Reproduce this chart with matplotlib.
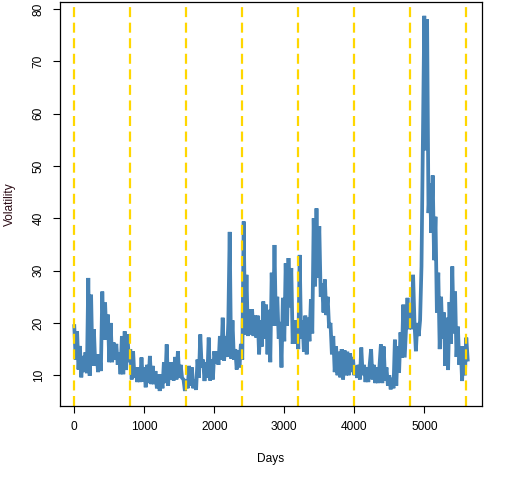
import numpy as np
import matplotlib.pyplot as plt

plt.rcParams['font.family'] = ['Liberation Sans', 'DejaVu Sans']

# volatility, one value every 20 days
vol = [
    19.4, 13, 18.4, 11.1, 15.6, 9.6, 13.7, 10.6, 14.4, 10.4,
    28.6, 9.9, 25.4, 11.8, 18.8, 11.8, 14, 10.6, 14, 10.8,
    26, 16.8, 23.9, 16.8, 21.6, 12.5, 20, 12.5, 16.3, 13,
    16, 12, 14.4, 10.2, 17.5, 10.2, 18.4, 11, 17.8, 12.5,
    15, 9.2, 14.6, 9.5, 11.5, 8.7, 11.5, 8.7, 13.4, 8.8,
    11.5, 7.7, 12, 8.5, 13.7, 8.3, 11.8, 8.3, 10.8, 7.5,
    10.2, 7, 10.2, 7.5, 12.5, 8.5, 15.9, 8, 12.5, 9.2,
    12.5, 9, 13.5, 9.2, 14.6, 9.5, 12, 9.5, 9.2, 7,
    9.2, 7.5, 11.8, 8, 11.5, 7.5, 9.2, 7.2, 13, 9.5,
    17.8, 11.5, 13, 8.9, 12.5, 9.5, 17.2, 9, 13, 9.2,
    14.6, 12.3, 14.6, 12, 17.5, 13, 21, 12.8, 17.5, 13.5,
    20, 37.4, 13.2, 20.5, 13, 15, 11.1, 14.8, 11.5, 16,
    13, 39.4, 17.8, 29.2, 17.5, 22.6, 17.8, 22.6, 17.5, 21.4,
    17.2, 21.4, 14, 20.5, 15.5, 24.1, 17, 23.5, 14, 22.5,
    12.5, 29.6, 19.5, 34.9, 19.5, 25, 17, 20.2, 11.5, 24.8,
    16.5, 31.4, 19.5, 32.4, 23, 30.5, 16, 20.5, 16, 20.5,
    15, 33, 17, 20.5, 14.5, 21.4, 14, 21, 16.5, 24.5,
    18, 40, 27, 41.9, 28.6, 38.5, 25, 27.5, 22, 28.3,
    21.5, 25, 19, 20, 14, 17.5, 10.6, 15.5, 10, 14.5,
    9.6, 15, 9.2, 14.8, 10, 14.5, 10, 14.2, 10.6, 13.5,
    10, 11.8, 9.5, 12, 9.2, 15.3, 10, 12, 8.7, 11.5,
    8.7, 12, 15, 9.2, 12, 8.5, 11.5, 8.5, 11.8, 15.9,
    8.5, 15.5, 9, 11.5, 8, 10, 7.3, 9.5, 7.5, 16.8,
    8, 15.5, 10.5, 18.2, 13.4, 23.5, 13.4, 19, 24.8, 18.8,
    23, 18.8, 29.2, 20, 14.6, 20, 17.5, 20.5, 30.8, 54.3,
    78.7, 53, 78, 41, 46.7, 37.2, 48.2, 32, 40.3, 22,
    29.6, 15, 25, 17, 22, 11.8, 21, 11, 24, 16,
    30.8, 18, 26, 13.5, 19.3, 12, 15.5, 8.9, 15.5, 10,
    17.2, 13,
]
days = np.arange(len(vol)) * 20

breaks = [0, 800, 1600, 2400, 3200, 4000, 4800, 5600]

fig = plt.figure(figsize=(5.12, 4.8), dpi=100)
ax = fig.add_axes([0.1172, 0.1542, 0.8236, 0.8416])

ax.plot(days, vol, color='#4682B4', lw=2.7, solid_joinstyle='miter')
for b in breaks:
    ax.axvline(b, color='#FFD700', lw=1.6, dashes=(4.5, 2.5))

ax.set_xlim(-204, 5820)
ax.set_ylim(4.13, 81.34)
ax.set_xticks([0, 1000, 2000, 3000, 4000, 5000])
ax.set_yticks([10, 20, 30, 40, 50, 60, 70, 80])
ax.tick_params(direction='out', length=5, width=0.8, labelsize=8.6, pad=6)
for lab in ax.get_yticklabels():
    lab.set_rotation(90)
    lab.set_va('center')
ax.set_xlabel('Days', fontsize=8.6, labelpad=14)
ax.set_ylabel('Volatility', fontsize=8.6, labelpad=12, color='#2a0a14')
for s in ax.spines.values():
    s.set_linewidth(0.9)

fig.savefig('out.png', dpi=100)
